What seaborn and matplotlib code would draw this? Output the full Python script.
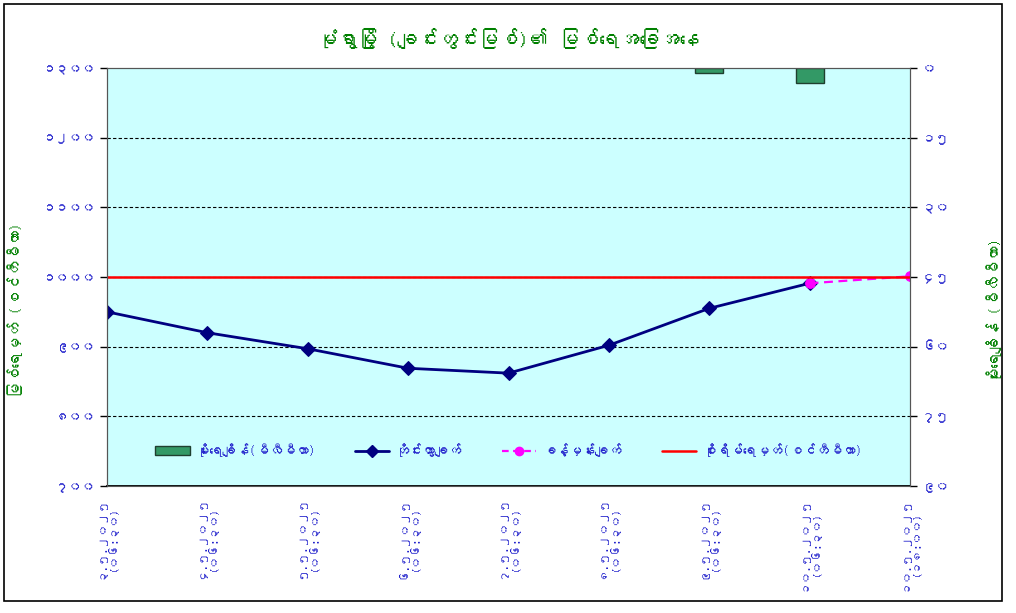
import matplotlib
matplotlib.use("Agg")
import matplotlib.pyplot as plt
import seaborn as sns
import pandas as pd
from matplotlib import font_manager as fm
from matplotlib.ft2font import FT2Font
from matplotlib.lines import Line2D
from matplotlib.patches import Patch, Rectangle

# --- data ---
dates = ['၃.၅.၂၀၂၅\n(၀၆:၃၀)', '၄.၅.၂၀၂၅\n(၀၆:၃၀)', '၅.၅.၂၀၂၅\n(၀၆:၃၀)',
         '၆.၅.၂၀၂၅\n(၀၆:၃၀)', '၇.၅.၂၀၂၅\n(၀၆:၃၀)', '၈.၅.၂၀၂၅\n(၀၆:၃၀)',
         '၉.၅.၂၀၂၅\n(၀၆:၃၀)', '၁၀.၅.၂၀၂၅\n(၀၆:၃၀)', '၁၀.၅.၂၀၂၅\n(၁၈:၀၀)']
observed = [950, 920, 897, 869, 862, 902, 955, 991, None]
forecast = [None, None, None, None, None, None, None, 991, 1001]
danger_level = 1000
rain_pos = [6, 7]
rain_mm = [1.1, 3.2]

left_ticks = [700, 800, 900, 1000, 1100, 1200, 1300]
left_labels = ['၇၀၀', '၈၀၀', '၉၀၀', '၁၀၀၀', '၁၁၀၀', '၁၂၀၀', '၁၃၀၀']
right_ticks = [0, 15, 30, 45, 60, 75, 90]
right_labels = ['၀', '၁၅', '၃၀', '၄၅', '၆၀', '၇၅', '၉၀']

title = 'မုံရွာမြို့ (ချင်းတွင်းမြစ်)၏ မြစ်ရေအခြေအနေ'
left_title = 'မြစ်ရေမှတ် (စင်တီမီတာ)'
right_title = 'မိုးရေချိန် (မီလီမီတာ)'
legend_names = ['မိုးရေချိန်(မီလီမီတာ)', 'တိုင်းထွာချက်', 'ခန့်မှန်းချက်', 'စိုးရိမ်ရေမှတ်(စင်တီမီတာ)']

sns.set_style("white")

# look for any installed font with Myanmar glyphs
mm_font = None
for f in fm.fontManager.ttflist:
    try:
        if 0x1019 in FT2Font(f.fname).get_charmap():
            mm_font = f.name
            break
    except Exception:
        pass
plt.rcParams['font.family'] = ([mm_font] if mm_font else []) + ['DejaVu Sans']

blue = '#2222CC'
green = '#008000'

df = pd.DataFrame({'x': range(len(dates)), 'obs': observed, 'fc': forecast})

fig = plt.figure(figsize=(10.16, 6.13), dpi=100)
ax = fig.add_axes([107 / 1016, 1 - 486 / 613, (910 - 107) / 1016, (486 - 68) / 613])
ax.set_facecolor('#CCFFFF')

sns.lineplot(data=df, x='x', y='obs', ax=ax, color='#000080', marker='D', markersize=7,
             linewidth=2, markeredgecolor='#000080')
sns.lineplot(data=df, x='x', y='fc', ax=ax, color='#FF00FF', marker='o', markersize=7,
             linewidth=1.6, linestyle=(0, (4, 2.5)), markeredgecolor='#FF00FF')
ax.axhline(danger_level, color='#FF0000', linewidth=1.8, zorder=3)

for t in left_ticks[1:-1]:
    ax.axhline(t, color='black', linewidth=0.8, linestyle=(0, (3, 2)), zorder=1)

ax.set_xlim(0, len(dates) - 1)
ax.set_ylim(700, 1300)
ax.set_yticks(left_ticks)
ax.set_yticklabels(left_labels, fontsize=9.5, fontweight='bold')
ax.set_xticks(range(len(dates)))
ax.set_xticklabels(dates, rotation=90, fontsize=8.5, va='top', ha='center', linespacing=1.15)
ax.tick_params(axis='both', direction='out', length=5, width=1, colors='black', pad=3)
for lab in ax.get_xticklabels() + ax.get_yticklabels():
    lab.set_color(blue)
ax.set_xlabel('')
ax.set_ylabel(left_title, color=green, fontsize=11, fontweight='bold')
ax.yaxis.set_label_coords(-0.105, 0.42)
for s in ax.spines.values():
    s.set_color('#555555')
ax.spines['bottom'].set_color('black')
ax.spines['bottom'].set_linewidth(1.3)

ax2 = ax.twinx()
sns.barplot(x=rain_pos, y=rain_mm, ax=ax2, native_scale=True, width=0.28,
            color='#339966', edgecolor='#1F3F2F', linewidth=1, saturation=1)
ax2.set_ylim(90, 0)
ax2.set_xlim(0, len(dates) - 1)
ax2.set_yticks(right_ticks)
ax2.set_yticklabels(right_labels, fontsize=10, fontweight='bold')
ax2.tick_params(axis='y', direction='out', length=5, width=1, colors='black')
for lab in ax2.get_yticklabels():
    lab.set_color(blue)
ax2.set_ylabel(right_title, color=green, fontsize=11, fontweight='bold')
ax2.yaxis.set_label_coords(1.095, 0.42)
for s in ax2.spines.values():
    s.set_color('#555555')

handles = [Patch(facecolor='#339966', edgecolor='#1F3F2F'),
           Line2D([], [], color='#000080', marker='D', markersize=6, linewidth=2),
           Line2D([], [], color='#FF00FF', marker='o', markersize=6, linewidth=1.6, linestyle=(0, (3, 2))),
           Line2D([], [], color='#FF0000', linewidth=1.8)]
leg = ax2.legend(handles, legend_names, loc='lower center', bbox_to_anchor=(0.5, 0.04), ncol=4,
                 frameon=False, fontsize=9.5, handlelength=2.6, columnspacing=3.0, handletextpad=0.5)
for t in leg.get_texts():
    t.set_color(blue)

fig.text(0.5, 1 - 38 / 613, title, ha='center', va='center', color=green,
         fontsize=14.5, fontweight='bold')
fig.patches.append(Rectangle((4 / 1016, 12 / 613), 998 / 1016, 597 / 613, transform=fig.transFigure,
                             fill=False, edgecolor='black', linewidth=1.2))

fig.savefig('out.png', dpi=100)
